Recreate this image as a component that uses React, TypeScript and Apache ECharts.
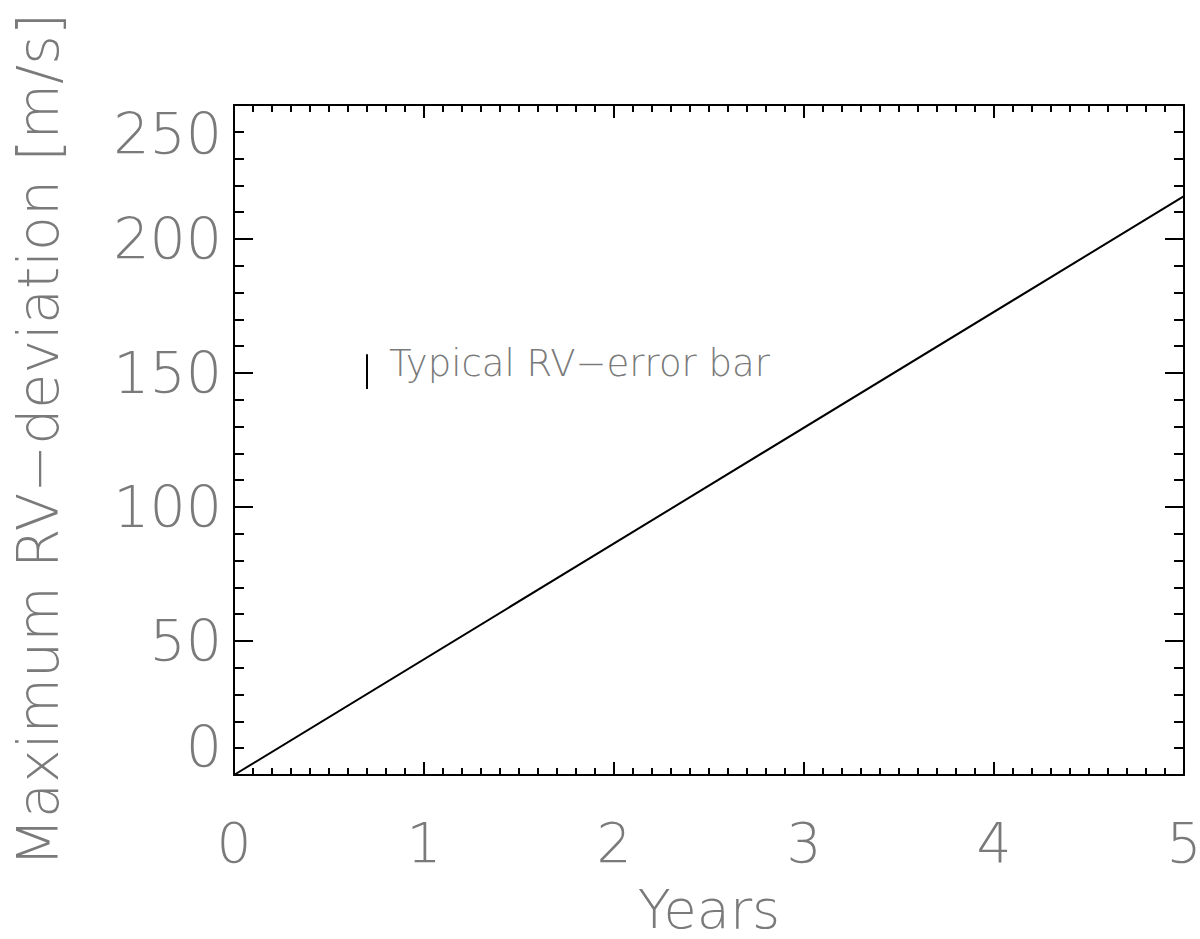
import React, { useEffect, useRef } from "react";
import * as echarts from "echarts";

const lineYears = [0, 5];
const lineRV = [0, 216];
const errorBarX = [0.7, 0.7];
const errorBarY = [144, 157];
const noteText = "Typical RV\u2212error bar";
const noteAt = [0.7, 150.5];
const xTitle = "Years";
const yTitle = "Maximum RV\u2212deviation [m/s]";

const FONT = "DejaVu Sans";
const GRAY = "#7a7a7a";

export default function App() {
  const ref = useRef<HTMLDivElement>(null);
  useEffect(() => {
    if (!ref.current) return;
    const chart = echarts.init(ref.current, undefined, { renderer: "svg" });
    const axisLine = { show: true, onZero: false, lineStyle: { color: "#000", width: 2 } };
    const xBase = {
      type: "value" as const,
      min: 0,
      max: 5,
      interval: 1,
      axisLine,
      splitLine: { show: false },
      axisTick: { show: true, inside: true, length: 13, lineStyle: { color: "#000", width: 2 } },
      minorTick: { show: true, splitNumber: 10, length: 7, lineStyle: { color: "#000", width: 2 } },
    };
    const yBase = {
      type: "value" as const,
      min: 0,
      max: 250,
      interval: 50,
      axisLine,
      splitLine: { show: false },
      axisTick: { show: true, inside: true, length: 19, lineStyle: { color: "#000", width: 2 } },
      minorTick: { show: true, splitNumber: 5, length: 10, lineStyle: { color: "#000", width: 2 } },
    };
    chart.setOption({
      animation: false,
      backgroundColor: "#fff",
      grid: { left: 234, right: 16, top: 105, bottom: 164, containLabel: false, outerBoundsMode: "none" },
      xAxis: [
        {
          ...xBase,
          position: "bottom",
          name: xTitle,
          nameLocation: "middle",
          nameGap: 107,
          nameTextStyle: { fontFamily: FONT, fontWeight: 200, fontSize: 54, color: GRAY },
          axisLabel: { show: true, margin: 40, fontFamily: FONT, fontWeight: 200, fontSize: 55, color: GRAY },
        },
        { ...xBase, position: "top", axisLabel: { show: false } },
      ],
      yAxis: [
        {
          ...yBase,
          position: "left",
          name: yTitle,
          nameLocation: "middle",
          nameRotate: 90,
          nameGap: 168,
          nameTextStyle: { fontFamily: FONT, fontWeight: 200, fontSize: 57, color: GRAY },
          axisLabel: {
            show: true,
            margin: 12,
            fontFamily: FONT,
            fontWeight: 200,
            fontSize: 57,
            color: GRAY,
            verticalAlignMinLabel: "bottom",
            verticalAlignMaxLabel: "top",
          },
        },
        { ...yBase, position: "right", axisLabel: { show: false } },
      ],
      series: [
        {
          type: "line",
          data: lineYears.map((x, i) => [x, lineRV[i]]),
          symbol: "none",
          lineStyle: { color: "#000", width: 2 },
          xAxisIndex: 0,
          yAxisIndex: 0,
        },
        {
          type: "line",
          data: errorBarX.map((x, i) => [x, errorBarY[i]]),
          symbol: "none",
          lineStyle: { color: "#000", width: 2 },
        },
        {
          type: "scatter",
          data: [noteAt],
          symbolSize: 0,
          label: {
            show: true,
            position: "right",
            distance: 22,
            offset: [0, -8],
            formatter: noteText,
            fontFamily: FONT,
            fontWeight: 200,
            fontSize: 37,
            color: "#555",
          },
        },
      ],
    });
    return () => chart.dispose();
  }, []);
  return <div ref={ref} style={{ width: 1200, height: 939, position: "absolute", left: 0, top: 0 }} />;
}
